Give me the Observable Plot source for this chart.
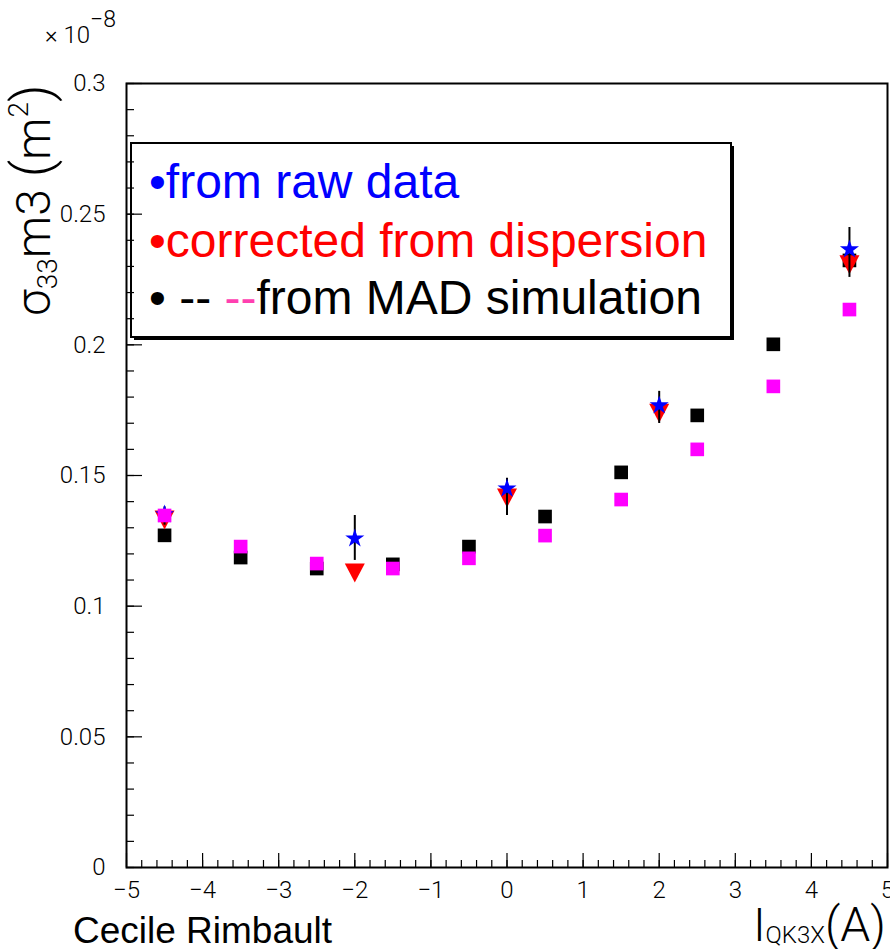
<!DOCTYPE html>
<html>
<head>
<meta charset="utf-8">
<script src="https://cdn.jsdelivr.net/npm/d3@7"></script>
<script src="https://cdn.jsdelivr.net/npm/@observablehq/plot@0.6"></script>
<style>
  html, body { margin: 0; padding: 0; background: #fff; }
  #chart svg { display: block; }
</style>
</head>
<body>
<div id="chart"></div>
<script>
// ---- data (values in units of 1e-8 m^2) ----
const xMAD = [-4.5, -3.5, -2.5, -1.5, -0.5, 0.5, 1.5, 2.5, 3.5, 4.5];
const madBlack = [0.1271, 0.1186, 0.1144, 0.1160, 0.1228, 0.1343, 0.1512, 0.1730, 0.2002, 0.2323];
const madPink  = [0.1347, 0.1228, 0.1163, 0.1144, 0.1183, 0.1270, 0.1408, 0.1600, 0.1841, 0.2135];

const xMeas = [-4.5, -2, 0, 2, 4.5];
const rawData   = [0.1351, 0.1259, 0.1450, 0.1768, 0.2365];
const corrected = [0.1332, 0.1129, 0.1416, 0.1740, 0.2308];
const errLow  = [0.1310, 0.1175, 0.1347, 0.1699, 0.2258];
const errHigh = [0.1380, 0.1347, 0.1489, 0.1822, 0.2449];

const xTicks = [-5, -4, -3, -2, -1, 0, 1, 2, 3, 4, 5];
const xTickLabels = ["\u22125", "\u22124", "\u22123", "\u22122", "\u22121", "0", "1", "2", "3", "4", "5"];
const yTicks = [0, 0.05, 0.1, 0.15, 0.2, 0.25, 0.3];
const yTickLabels = ["0", "0.05", "0.1", "0.15", "0.2", "0.25", "0.3"];
const xMinor = d3.range(-50, 51, 2).map(v => v / 10);
const yMinor = d3.range(0, 31, 1).map(v => v / 100);

const legendLines = [
  {parts: [{t: "\u2022from raw data", c: "#0000ff"}]},
  {parts: [{t: "\u2022corrected from dispersion", c: "#ff0000"}]},
  {parts: [{t: "\u2022 -- ", c: "#000000"}, {t: "--", c: "#ff40b0"}, {t: "from MAD simulation", c: "#000000"}]}
];

const W = 890, H = 949;
const mL = 126, mR = 3, mT = 83, mB = 82;
const fw = W - mL - mR, fh = H - mT - mB;

const triDown = {
  draw(ctx) {
    ctx.moveTo(-10, -9);
    ctx.lineTo(10, -9);
    ctx.lineTo(0, 10);
    ctx.closePath();
  }
};

const tickFont = "Roboto, 'Liberation Sans', sans-serif";

const chart = Plot.plot({
  width: W,
  height: H,
  marginLeft: mL,
  marginRight: mR,
  marginTop: mT,
  marginBottom: mB,
  style: {background: "#fff", fontFamily: tickFont},
  x: {domain: [-5, 5]},
  y: {domain: [0, 0.3]},
  marks: [
    Plot.axisX({ticks: xTicks, tickSize: 0, tickPadding: 13, fontSize: 24, fontWeight: 300,
      tickFormat: (d) => xTickLabels[xTicks.indexOf(d)], label: null}),
    Plot.axisY({ticks: yTicks, tickSize: 0, tickPadding: 21, fontSize: 24, fontWeight: 300,
      tickFormat: (d) => yTickLabels[yTicks.findIndex(v => Math.abs(v - d) < 1e-9)], label: null}),
    // inward ticks
    Plot.ruleX(xMinor, {x: d => d, insetTop: fh - 7, stroke: "#000", strokeWidth: 1.2}),
    Plot.ruleX(xTicks, {x: d => d, insetTop: fh - 14, stroke: "#000", strokeWidth: 1.2}),
    Plot.ruleY(yMinor, {y: d => d, insetRight: fw - 8, stroke: "#000", strokeWidth: 1.2}),
    Plot.ruleY(yTicks, {y: d => d, insetRight: fw - 16, stroke: "#000", strokeWidth: 1.2}),
    Plot.frame({stroke: "#000", strokeWidth: 2}),
    // MAD black squares
    Plot.dot(xMAD, {x: d => d, y: (d, i) => madBlack[i], symbol: "square", r: 7.7, fill: "#000", stroke: null}),
    // corrected (red down triangles)
    Plot.dot(xMeas, {x: d => d, y: (d, i) => corrected[i], symbol: triDown, fill: "#ff0000", stroke: null}),
    // error bars
    Plot.ruleX(xMeas, {x: d => d, y1: (d, i) => errLow[i], y2: (d, i) => errHigh[i], stroke: "#000", strokeWidth: 2}),
    // raw data (blue stars)
    Plot.dot(xMeas, {x: d => d, y: (d, i) => rawData[i], symbol: "star", r: 6, fill: "#0000ff", stroke: null}),
    // MAD magenta squares
    Plot.dot(xMAD, {x: d => d, y: (d, i) => madPink[i], symbol: "square", r: 7.7, fill: "#ff00ff", stroke: null})
  ]
});

document.getElementById("chart").appendChild(chart);

const svg = d3.select(chart);

// legend box (drawn under the axis ticks)
const lg = svg.insert("g", ":first-child").attr("class", "legend");
lg.append("rect").attr("x", 134).attr("y", 146).attr("width", 600).attr("height", 194).attr("fill", "#000");
lg.append("rect").attr("x", 131).attr("y", 143).attr("width", 600).attr("height", 194)
  .attr("fill", "#fff").attr("stroke", "#000").attr("stroke-width", 2);
const lgFont = "'Liberation Sans', Arial, sans-serif";
const baselines = [198, 257, 314];
legendLines.forEach((line, k) => {
  const t = lg.append("text").attr("x", 149).attr("y", baselines[k]).attr("text-anchor", "start")
    .attr("font-family", lgFont).attr("font-size", 48);
  line.parts.forEach(p => t.append("tspan").attr("fill", p.c).text(p.t));
});

// x 10^-8 multiplier
const mult = svg.append("text").attr("x", 45).attr("y", 43).attr("text-anchor", "start")
  .attr("font-family", tickFont).attr("font-weight", 300).attr("font-size", 24).attr("fill", "#000");
mult.append("tspan").text("\u00d7 10");
mult.append("tspan").attr("dy", -16).attr("font-size", 23).text("\u22128");

// y-axis title (rotated)
const yt = svg.append("text").attr("transform", "translate(50,316) rotate(-90)").attr("text-anchor", "start")
  .attr("font-family", tickFont).attr("font-weight", 300).attr("font-size", 48).attr("fill", "#000");
yt.append("tspan").text("\u03c3");
yt.append("tspan").attr("dy", 7).attr("font-size", 28).text("33");
yt.append("tspan").attr("dy", -7).text("m3 ");
yt.append("tspan").attr("font-size", 54).text("(");
yt.append("tspan").text("m");
yt.append("tspan").attr("dy", -22).attr("font-size", 28).text("2");
yt.append("tspan").attr("dy", 22).attr("font-size", 54).text(")");

// x-axis title
const xt = svg.append("text").attr("x", 886).attr("y", 941).attr("text-anchor", "end")
  .attr("font-family", tickFont).attr("font-weight", 300).attr("font-size", 46).attr("fill", "#000");
xt.append("tspan").text("I");
xt.append("tspan").attr("dy", 2).attr("font-size", 24).text("QK3X");
xt.append("tspan").attr("dy", -2).attr("font-size", 48).text("(A)");

// author
svg.append("text").attr("x", 73).attr("y", 943).attr("text-anchor", "start")
  .attr("font-family", lgFont).attr("font-size", 37).attr("fill", "#000").text("Cecile Rimbault");
</script>
</body>
</html>
